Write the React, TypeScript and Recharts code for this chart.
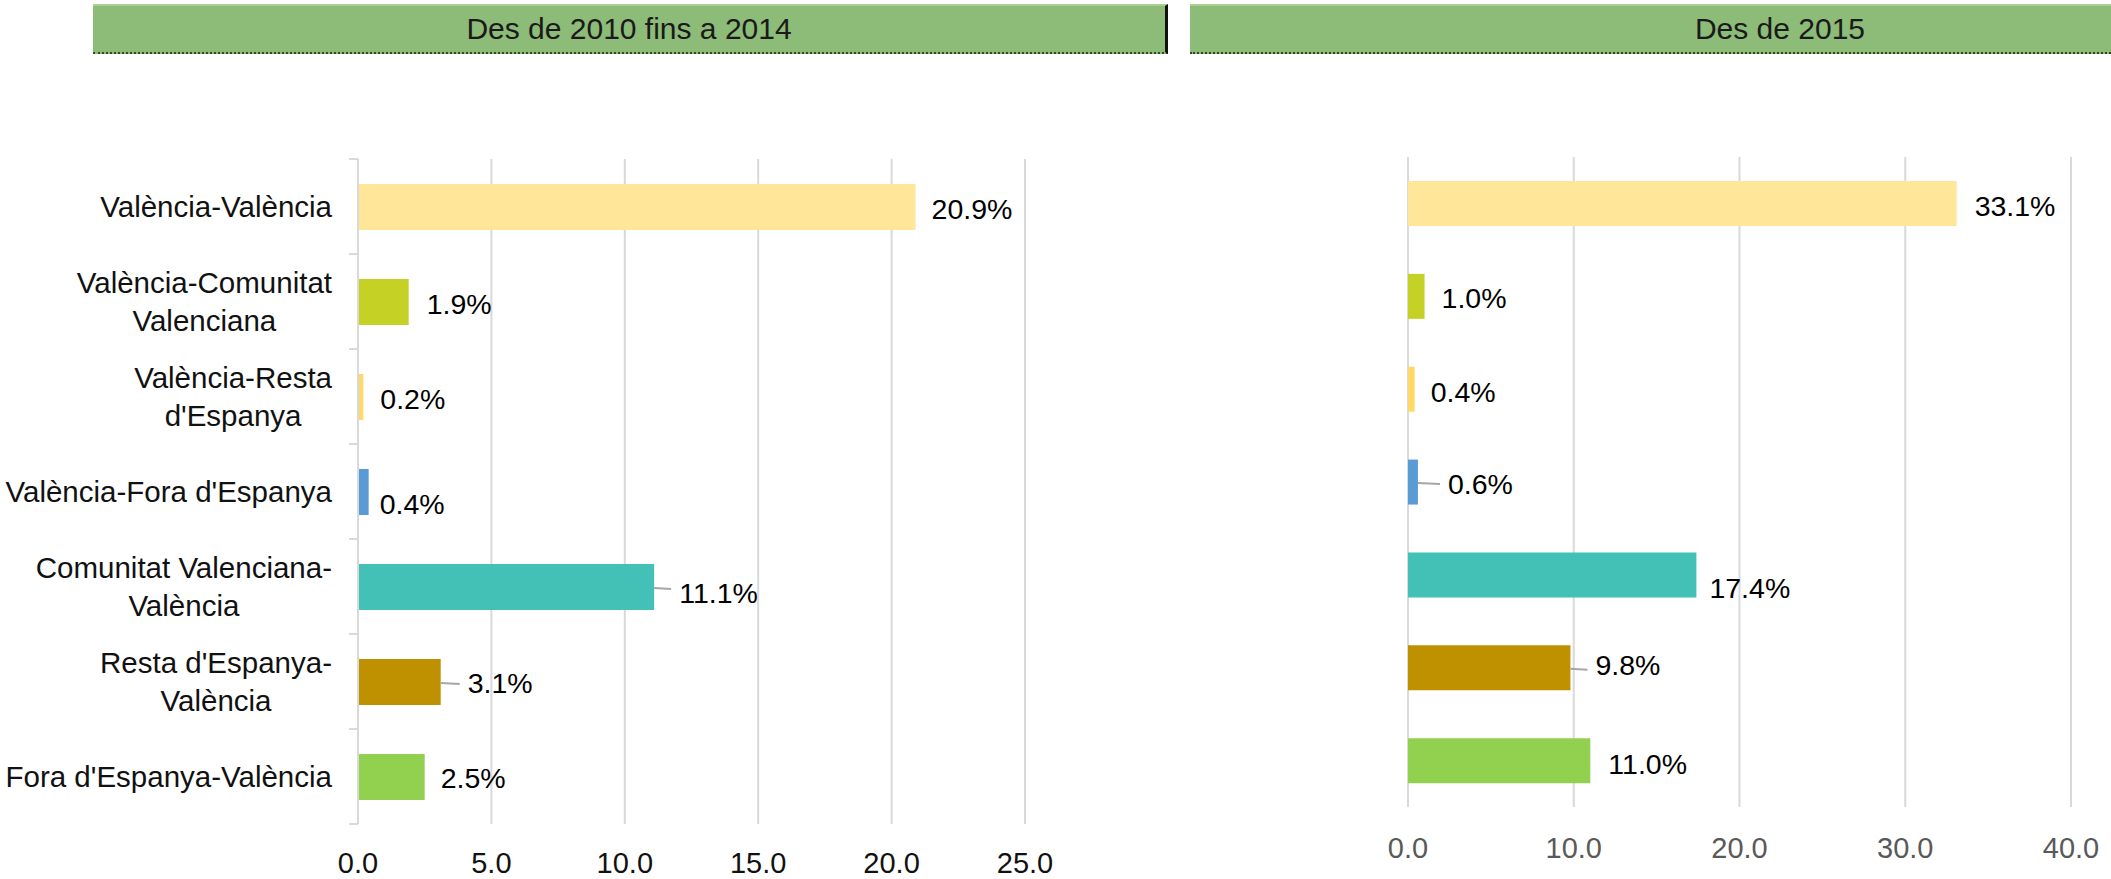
import React from "react";
import { BarChart, Bar, XAxis, YAxis, CartesianGrid, Cell, LabelList } from "recharts";

const categories = [
  "València-València",
  "València-Comunitat\nValenciana",
  "València-Resta\nd'Espanya",
  "València-Fora d'Espanya",
  "Comunitat Valenciana-\nValència",
  "Resta d'Espanya-\nValència",
  "Fora d'Espanya-València",
];
const values2010to2014 = [20.9, 1.9, 0.2, 0.4, 11.1, 3.1, 2.5];
const values2015 = [33.1, 1.0, 0.4, 0.6, 17.4, 9.8, 11.0];
const ticks2010to2014 = [0, 5, 10, 15, 20, 25];
const ticks2015 = [0, 10, 20, 30, 40];
const titles = ["Des de 2010 fins a 2014", "Des de 2015"];

const barColors = ["#FFE699", "#C5D125", "#FFD966", "#5B9BD5", "#43C1B6", "#BF9000", "#92D050"];

// label placement tweaks (Excel put a few of them a bit off, some with leader lines)
const leftLabelPos = [
  { dx: 16, dy: 2 },
  { dx: 18, dy: 2 },
  { dx: 17, dy: 2 },
  { dx: 11, dy: 12 },
  { dx: 25, dy: 6, leader: true },
  { dx: 27, dy: 1, leader: true },
  { dx: 16, dy: 1 },
];
const rightLabelPos = [
  { dx: 18, dy: 2 },
  { dx: 17, dy: 2 },
  { dx: 16, dy: 3 },
  { dx: 30, dy: 2, leader: true },
  { dx: 13, dy: 13 },
  { dx: 25, dy: -3, leader: true },
  { dx: 18, dy: 3 },
];

const FONT = "'Liberation Sans', Arial, sans-serif";
const CAT_FS = 29.5;
const TICK_FS = 29;
const LABEL_FS = 28.5;
const H = 879;
const GRID = "#D9D9D9";

const leftData = categories.map((name, i) => ({ name, v: values2010to2014[i] }));
const rightData = categories.map((name, i) => ({ name, v: values2015[i] }));

let ctx: CanvasRenderingContext2D | null = null;
const measure = (s: string) => {
  if (!ctx) {
    ctx = document.createElement("canvas").getContext("2d");
    if (ctx) ctx.font = `${CAT_FS}px ${FONT}`;
  }
  return ctx ? ctx.measureText(s).width : s.length * CAT_FS * 0.5;
};

const LEFT_TOP = 159;
const LEFT_AXIS_H = 55;
const LEFT_BAND = (H - LEFT_TOP - LEFT_AXIS_H) / categories.length;

const CategoryTick = (props: any) => {
  const { x, y, payload, index } = props;
  const lines = String(payload.value).split("\n");
  const block = Math.max(...lines.map(measure));
  const cx = x - 26 - block / 2;
  const half = LEFT_BAND / 2;
  return (
    <g>
      <line x1={x - 9} x2={x} y1={y - half} y2={y - half} stroke={GRID} strokeWidth={2} />
      {index === categories.length - 1 && (
        <line x1={x - 9} x2={x} y1={y + half} y2={y + half} stroke={GRID} strokeWidth={2} />
      )}
      <text textAnchor="middle" fontSize={CAT_FS} fontFamily={FONT} fill="#111">
        {lines.map((l, i) => (
          <tspan key={i} x={cx} y={y + 10 + (i - (lines.length - 1) / 2) * 38}>
            {l}
          </tspan>
        ))}
      </text>
    </g>
  );
};

const makeValueTick = (fill: string, gap: number) => (props: any) => (
  <text x={props.x} y={props.y + gap} textAnchor="middle" fontSize={TICK_FS} fontFamily={FONT} fill={fill}>
    {Number(props.payload.value).toFixed(1)}
  </text>
);

const makeValueLabel = (pos: { dx: number; dy: number; leader?: boolean }[]) => (props: any) => {
  const vb = props.viewBox || {};
  const x = props.x ?? vb.x;
  const y = props.y ?? vb.y;
  const width = props.width ?? vb.width;
  const height = props.height ?? vb.height;
  const o = pos[props.index] || { dx: 16, dy: 0 };
  const end = x + width;
  const cy = y + height / 2;
  return (
    <g>
      {o.leader && (
        <path
          d={`M${end},${cy + 1} L${end + o.dx - 8},${cy + 2}`}
          stroke="#A6A6A6"
          strokeWidth={2}
          fill="none"
        />
      )}
      <text x={end + o.dx} y={cy + o.dy + 10} fontSize={LABEL_FS} fontFamily={FONT} fill="#000">
        {Number(props.value).toFixed(1)}%
      </text>
    </g>
  );
};

const headerBase: React.CSSProperties = {
  position: "absolute",
  top: 4,
  height: 50,
  background: "#8DBB78",
  borderTop: "2px solid #A9D18E",
  borderBottom: "2px dotted #2F4A22",
  boxSizing: "border-box",
  textAlign: "center",
  lineHeight: "46px",
  fontSize: 30,
  color: "#1A1A1A",
  fontFamily: FONT,
};

export default function App() {
  return (
    <div
      style={{
        position: "absolute",
        left: 0,
        top: 0,
        width: 2111,
        height: H,
        background: "#fff",
        overflow: "hidden",
        fontFamily: FONT,
      }}
    >
      <div style={{ ...headerBase, left: 93, width: 1075, borderRight: "3px solid #111" }}>{titles[0]}</div>
      <div style={{ ...headerBase, left: 1190, width: 1180 }}>{titles[1]}</div>

      <div style={{ position: "absolute", left: 0, top: 0 }}>
        <BarChart
          width={1100}
          height={H}
          data={leftData}
          layout="vertical"
          margin={{ top: LEFT_TOP, right: 75, bottom: 0, left: 0 }}
        >
          <CartesianGrid horizontal={false} stroke={GRID} strokeWidth={2} />
          <XAxis
            type="number"
            domain={[0, 25]}
            ticks={ticks2010to2014}
            axisLine={false}
            tickLine={false}
            tickSize={0}
            tickMargin={0}
            height={LEFT_AXIS_H}
            tick={makeValueTick("#111", 49)}
            interval={0}
          />
          <YAxis
            type="category"
            dataKey="name"
            width={358}
            axisLine={{ stroke: GRID, strokeWidth: 2 }}
            tickLine={false}
            tickSize={0}
            tickMargin={0}
            tick={CategoryTick}
            interval={0}
          />
          <Bar dataKey="v" barSize={46} isAnimationActive={false}>
            {leftData.map((d, i) => (
              <Cell key={d.name} fill={barColors[i]} />
            ))}
            <LabelList dataKey="v" content={makeValueLabel(leftLabelPos)} />
          </Bar>
        </BarChart>
      </div>

      <div style={{ position: "absolute", left: 1150, top: 0 }}>
        <BarChart
          width={961}
          height={H}
          data={rightData}
          layout="vertical"
          margin={{ top: 157, right: 40, bottom: 0, left: 258 }}
        >
          <CartesianGrid horizontal={false} stroke={GRID} strokeWidth={2} />
          <XAxis
            type="number"
            domain={[0, 40]}
            ticks={ticks2015}
            axisLine={false}
            tickLine={false}
            tickSize={0}
            tickMargin={0}
            height={72}
            tick={makeValueTick("#595959", 51)}
            interval={0}
          />
          <YAxis type="category" dataKey="name" hide />
          <Bar dataKey="v" barSize={45} isAnimationActive={false}>
            {rightData.map((d, i) => (
              <Cell key={d.name} fill={barColors[i]} />
            ))}
            <LabelList dataKey="v" content={makeValueLabel(rightLabelPos)} />
          </Bar>
        </BarChart>
      </div>
    </div>
  );
}
